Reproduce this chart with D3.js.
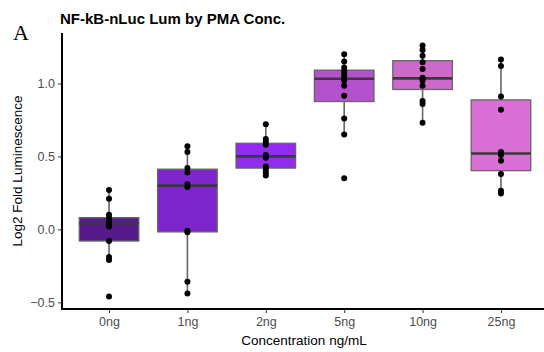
<!DOCTYPE html>
<html><head><meta charset="utf-8">
<script src="https://cdn.jsdelivr.net/npm/d3@7"></script>
<style>body{margin:0;background:#fff}svg{display:block}</style>
</head><body>
<svg id="c" width="544" height="352"></svg>
<script>
const categories = ["0ng","1ng","2ng","5ng","10ng","25ng"];
const colors = ["#551A8B","#7D26CD","#912CEE","#B452CD","#CD69C9","#DA70D6"];
const v0ng = [-0.46,-0.21,-0.19,-0.08,0.02,0.03,0.04,0.05,0.06,0.08,0.10,0.21,0.27];
const v1ng = [-0.44,-0.36,-0.02,-0.01,0.29,0.31,0.39,0.42,0.53,0.57];
const v2ng = [0.37,0.39,0.41,0.43,0.49,0.50,0.51,0.58,0.60,0.62,0.72];
const v5ng = [0.35,0.65,0.76,0.915,0.985,1.02,1.045,1.065,1.085,1.11,1.15,1.20];
const v10ng = [0.73,0.86,0.88,0.985,1.02,1.03,1.04,1.10,1.145,1.19,1.23,1.26];
const v25ng = [0.245,0.265,0.38,0.47,0.51,0.53,0.82,0.91,1.12,1.165];
const yTicks = [-0.5,0.0,0.5,1.0];
const title = "NF-kB-nLuc Lum by PMA Conc.";
const panelLabel = "A";
const xTitle = "Concentration ng/mL";
const yTitle = "Log2 Fold Luminescence";

const series = [v0ng,v1ng,v2ng,v5ng,v10ng,v25ng];
const svg = d3.select("#c");
const L = 62, R = 548, T = 33, B = 309;
const SANS = "Liberation Sans, Arial, sans-serif";

const all = series.flat();
const ext = d3.extent(all);
const pad = (ext[1]-ext[0])*0.05;
const y = d3.scaleLinear().domain([ext[0]-pad, ext[1]+pad]).range([B, T]);
const x = d3.scalePoint().domain(categories).range([L, R]).padding(0.6);
const bw = x.step()*0.76;

const g = svg.append("g");
series.forEach((vals, i) => {
  const s = vals.slice().sort(d3.ascending);
  const q1 = d3.quantile(s, 0.25), med = d3.quantile(s, 0.5), q3 = d3.quantile(s, 0.75);
  const iqr = q3 - q1;
  const lo = d3.min(s.filter(v => v >= q1 - 1.5*iqr));
  const hi = d3.max(s.filter(v => v <= q3 + 1.5*iqr));
  const cx = x(categories[i]);
  g.append("line").attr("x1",cx).attr("x2",cx).attr("y1",y(hi)).attr("y2",y(q3))
    .attr("stroke","#666").attr("stroke-width",1.6);
  g.append("line").attr("x1",cx).attr("x2",cx).attr("y1",y(q1)).attr("y2",y(lo))
    .attr("stroke","#666").attr("stroke-width",1.6);
  g.append("rect").attr("x",cx-bw/2).attr("width",bw).attr("y",y(q3)).attr("height",y(q1)-y(q3))
    .attr("fill",colors[i]).attr("stroke","#666").attr("stroke-width",1.3);
  g.append("line").attr("x1",cx-bw/2).attr("x2",cx+bw/2).attr("y1",y(med)).attr("y2",y(med))
    .attr("stroke","#3a3a3a").attr("stroke-width",2.6);
  g.selectAll(null).data(vals).enter().append("circle")
    .attr("cx",cx).attr("cy",d=>y(d)).attr("r",3).attr("fill","#000");
});

// axes
const yAxis = svg.append("g").attr("transform",`translate(${L},0)`)
  .call(d3.axisLeft(y).tickValues(yTicks).tickFormat(d3.format(".1f")).tickSize(4).tickPadding(3));
const xAxis = svg.append("g").attr("transform",`translate(0,${B})`)
  .call(d3.axisBottom(x).tickSize(4).tickPadding(4));
[yAxis,xAxis].forEach(a=>{
  a.select(".domain").remove();
  a.selectAll(".tick line").attr("stroke","#333");
  a.selectAll("text").attr("font-family",SANS).attr("font-size",12.5).attr("fill","#4d4d4d");
});
svg.append("line").attr("x1",L).attr("x2",L).attr("y1",T).attr("y2",B+1).attr("stroke","#000").attr("stroke-width",2);
svg.append("line").attr("x1",L-1).attr("x2",R).attr("y1",B).attr("y2",B).attr("stroke","#000").attr("stroke-width",2);

svg.append("text").attr("x",60).attr("y",24).text(title)
  .attr("font-family",SANS).attr("font-weight","bold").attr("font-size",15).attr("fill","#000");
svg.append("text").attr("x",13).attr("y",40).text(panelLabel)
  .attr("font-family","Liberation Serif, Times New Roman, serif").attr("font-size",22).attr("fill","#000");
svg.append("text").attr("x",304).attr("y",345).attr("text-anchor","middle").text(xTitle)
  .attr("font-family",SANS).attr("font-size",13.5).attr("fill","#000");
svg.append("text").attr("transform",`translate(22,${(T+B)/2}) rotate(-90)`).attr("text-anchor","middle").text(yTitle)
  .attr("font-family",SANS).attr("font-size",13.5).attr("fill","#000");
</script>
</body></html>
